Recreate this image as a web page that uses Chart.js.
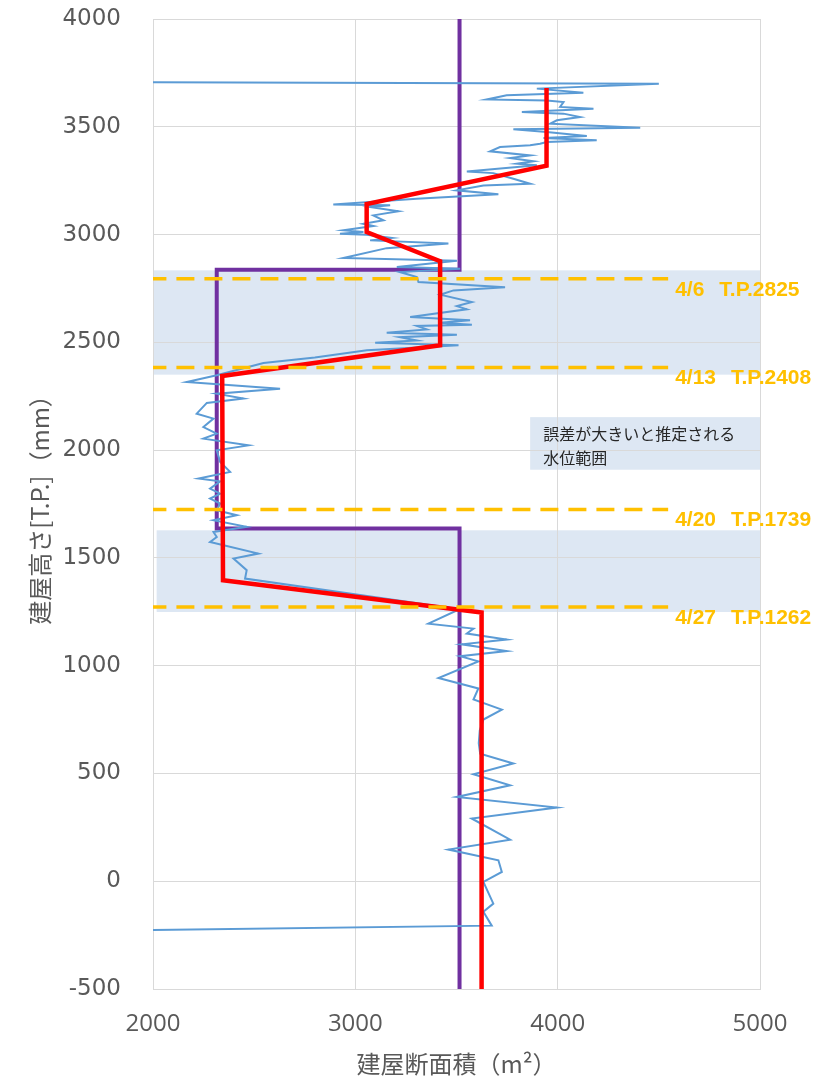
<!DOCTYPE html>
<html>
<head>
<meta charset="utf-8">
<script src="https://cdn.jsdelivr.net/npm/chart.js@4"></script>
<style>
  body { margin: 0; background: #fff; }
  #wrap { width: 832px; height: 1082px; }
</style>
</head>
<body>
<div id="wrap"><canvas id="areaChart"></canvas></div>
<script>
// measured building cross-section (blue), heights in T.P. mm
const blueHeight = [3711, 3700, 3677, 3658, 3646, 3627, 3622, 3615, 3592, 3584, 3568, 3561, 3545, 3530, 3514, 3496, 3488, 3476, 3457, 3448, 3437, 3429, 3421, 3414, 3406, 3386, 3367, 3355, 3340, 3329, 3321, 3292, 3285, 3259, 3236, 3228, 3205, 3187, 3166, 3139, 3136, 3128, 3108, 3089, 3066, 3050, 3040, 3020, 3012, 3004, 2999, 2984, 2973, 2958, 2937, 2891, 2879, 2849, 2841, 2826, 2803, 2780, 2756, 2741, 2721, 2687, 2668, 2653, 2617, 2602, 2591, 2582, 2576, 2560, 2545, 2535, 2524, 2509, 2498, 2486, 2463, 2430, 2404, 2347, 2316, 2285, 2262, 2239, 2219, 2169, 2146, 2107, 2076, 2053, 2022, 1999, 1945, 1899, 1868, 1855, 1821, 1798, 1775, 1752, 1721, 1698, 1675, 1644, 1620, 1597, 1574, 1520, 1497, 1443, 1404, 1262, 1195, 1172, 1149, 1121, 1099, 1068, 1044, 1020, 943, 894, 843, 796, 750, 700, 640, 592, 546, 496, 445, 391, 342, 291, 193, 147, 97, 43, -3, -104, -142, -206, -250];
const blueArea = [0, 4500, 3897, 4127, 3748, 3650, 3946, 4029, 4012, 4177, 3823, 4029, 4111, 3996, 3963, 4408, 3781, 3946, 4144, 3930, 4193, 3946, 3913, 3864, 3715, 3666, 3864, 3765, 3880, 3798, 3897, 3551, 3682, 3781, 3864, 3633, 3501, 3707, 3303, 2891, 3172, 3073, 3213, 3089, 3139, 3040, 3089, 2941, 3040, 2924, 3056, 3180, 3073, 3460, 3155, 2941, 3502, 3205, 3518, 3221, 3304, 3312, 3740, 3485, 3419, 3576, 3502, 3551, 3271, 3567, 3419, 3576, 3304, 3353, 3155, 3502, 3221, 3304, 3098, 3510, 3057, 2800, 2546, 2315, 2167, 2628, 2315, 2447, 2266, 2216, 2299, 2249, 2315, 2249, 2472, 2315, 2332, 2381, 2225, 2332, 2282, 2332, 2282, 2332, 2315, 2414, 2299, 2463, 2299, 2315, 2282, 2521, 2398, 2463, 2455, 3515, 3361, 3584, 3551, 3748, 3526, 3748, 3518, 3608, 3411, 3608, 3584, 3724, 3633, 3615, 3610, 3617, 3781, 3584, 3765, 3501, 3996, 3575, 3765, 3460, 3707, 3724, 3633, 3682, 3633, 3674, 0];

// fitted model (red)
const redHeight = [3680, 3320, 3142, 3012, 2876, 2486, 2344, 1396, 1247, -500];
const redArea = [3945, 3945, 3056, 3056, 3419, 3419, 2342, 2346, 3624, 3624];

// design cross-section (purple)
const purpleHeight = [4000, 2837, 2837, 1636, 1636, -500];
const purpleArea = [3515, 3515, 2315, 2315, 3515, 3515];

// water levels (dashed lines) and their labels
const levelDates = ["4/6", "4/13", "4/20", "4/27"];
const levelNames = ["T.P.2825", "T.P.2408", "T.P.1739", "T.P.1262"];
const levelDrawn = [2795, 2383, 1724, 1272];
const levelEndArea = 4546;

// shaded ranges with large error
const bandTop = [2834, 1628];
const bandBottom = [2350, 1249];
const bandLeft = [2005, 2018];
const noteLines = ["誤差が大きいと推定される", "水位範囲"];
const noteBox = { left: 3864, right: 5000, top: 2153, bottom: 1909 };

function toPoints(xs, ys) {
  return xs.map((v, i) => ({ x: v, y: ys[i] }));
}

const overlayPlugin = {
  id: "overlay",
  beforeDraw(chart) {
    const { ctx, scales: { x, y } } = chart;
    ctx.save();
    ctx.fillStyle = "#dde7f3";
    for (let i = 0; i < bandTop.length; i++) {
      const x0 = x.getPixelForValue(bandLeft[i]);
      const x1 = x.getPixelForValue(5000);
      const y0 = y.getPixelForValue(bandTop[i]);
      const y1 = y.getPixelForValue(bandBottom[i]);
      ctx.fillRect(x0, y0, x1 - x0, y1 - y0);
    }
    const bx0 = x.getPixelForValue(noteBox.left);
    const bx1 = x.getPixelForValue(noteBox.right);
    const by0 = y.getPixelForValue(noteBox.top);
    const by1 = y.getPixelForValue(noteBox.bottom);
    ctx.fillRect(bx0, by0, bx1 - bx0, by1 - by0);
    ctx.restore();
  },
  afterDatasetsDraw(chart) {
    const { ctx, scales: { x, y } } = chart;
    ctx.save();
    // dashed water level lines
    ctx.strokeStyle = "#ffc000";
    ctx.lineWidth = 3.5;
    ctx.setLineDash([18, 10]);
    ctx.lineDashOffset = 4.6;
    const xa = x.getPixelForValue(2000);
    const xb = x.getPixelForValue(levelEndArea);
    levelDrawn.forEach((lv) => {
      const py = y.getPixelForValue(lv);
      ctx.beginPath();
      ctx.moveTo(xa, py);
      ctx.lineTo(xb, py);
      ctx.stroke();
    });
    ctx.setLineDash([]);
    // labels
    ctx.fillStyle = "#ffc000";
    ctx.font = "bold 21px 'Liberation Sans', Arial, sans-serif";
    ctx.textBaseline = "middle";
    ctx.textAlign = "left";
    levelDrawn.forEach((lv, i) => {
      const py = y.getPixelForValue(lv) + 11;
      const lx = xb + 7;
      ctx.fillText(levelDates[i], lx, py);
      const w = ctx.measureText(levelDates[i]).width;
      ctx.fillText(levelNames[i], lx + w + 15, py);
    });
    // note text
    ctx.fillStyle = "#262626";
    ctx.font = "16px 'Noto Sans CJK JP', sans-serif";
    const tx = x.getPixelForValue(noteBox.left) + 13;
    const ty = y.getPixelForValue(noteBox.top) + 17;
    noteLines.forEach((t, i) => ctx.fillText(t, tx, ty + i * 23.5));
    ctx.restore();
  },
};

const ctx = document.getElementById("areaChart");
const myChart = new Chart(ctx, {
  type: "scatter",
  data: {
    datasets: [
      {
        label: "red",
        data: toPoints(redArea, redHeight),
        showLine: true,
        borderColor: "#ff0000",
        borderWidth: 4.5,
        pointRadius: 0,
        borderJoinStyle: "miter",
      },
      {
        label: "blue",
        data: toPoints(blueArea, blueHeight),
        showLine: true,
        borderColor: "#5b9bd5",
        borderWidth: 2,
        pointRadius: 0,
      },
      {
        label: "purple",
        data: toPoints(purpleArea, purpleHeight),
        showLine: true,
        borderColor: "#7030a0",
        borderWidth: 4,
        pointRadius: 0,
        borderJoinStyle: "miter",
      },
    ],
  },
  options: {
    responsive: true,
    maintainAspectRatio: false,
    animation: false,
    layout: { padding: { left: 0, right: 72, top: 19, bottom: 0 } },
    plugins: {
      legend: { display: false },
      tooltip: { enabled: false },
    },
    scales: {
      x: {
        type: "linear",
        min: 2000,
        max: 5000,
        ticks: {
          stepSize: 1000,
          padding: 21,
          color: "#595959",
          font: { family: "'Open Sans'", size: 24 },
          callback: (v) => String(v),
        },
        grid: { color: "#d9d9d9", drawTicks: false },
        border: { color: "#d9d9d9" },
        title: {
          display: true,
          text: "建屋断面積（m²）",
          color: "#595959",
          font: { family: "'Noto Sans CJK JP'", size: 24 },
          padding: { top: 0, bottom: 4 },
        },
        afterFit(scale) {
          scale.height = 93;
          scale.paddingLeft = 0;
          scale.paddingRight = 0;
        },
      },
      y: {
        type: "linear",
        min: -500,
        max: 4000,
        ticks: {
          stepSize: 500,
          padding: 32,
          color: "#595959",
          font: { family: "'DejaVu Sans'", size: 23 },
          callback: (v) => String(v),
        },
        grid: { color: "#d9d9d9", drawTicks: false },
        border: { color: "#d9d9d9" },
        title: {
          display: true,
          text: "建屋高さ[T.P.]（mm）",
          color: "#595959",
          font: { family: "'Noto Sans CJK JP'", size: 24 },
          padding: { top: 25, bottom: 0 },
        },
        afterFit(scale) {
          scale.width = 153;
          scale.paddingTop = 0;
          scale.paddingBottom = 0;
        },
      },
    },
  },
  plugins: [overlayPlugin],
});
</script>
</body>
</html>
